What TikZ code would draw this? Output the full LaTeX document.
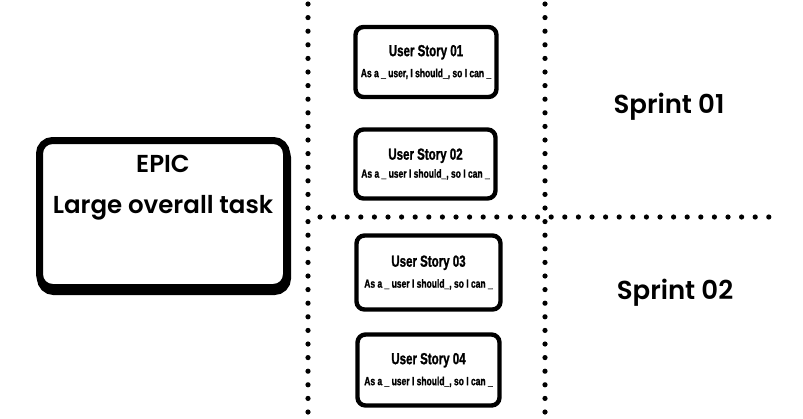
\documentclass[tikz,border=0pt]{standalone}
\usepackage{fontspec}
\setmainfont{Poppins SemiBold}
\newfontfamily\storyfont[FakeStretch=0.72,FakeBold=1.2]{Liberation Sans Bold}
\usetikzlibrary{positioning}

\begin{document}
\begin{tikzpicture}[x=1pt,y=-1pt,
    epicbox/.style={draw,line width=7pt,rounded corners=13pt,minimum width=247pt,minimum height=147pt,fill=white},
    story/.style={draw,line width=4.4pt,rounded corners=8pt,minimum width=142pt,minimum height=71pt,align=center,fill=white,font=\storyfont},
    sprint/.style={font=\fontsize{26}{30}\selectfont},
    sep/.style={line width=5.2pt,line cap=round,dash pattern=on 0pt off 13.6pt}]
    \useasboundingbox (0,0) rectangle (803,418);

    % separators
    \coordinate (v1top) at (308,4);
    \coordinate (v1bot) at (308,418);
    \coordinate (v2top) at (545,4);
    \coordinate (v2bot) at (545,418);
    \coordinate (hleft) at (320,217);
    \coordinate (hright) at (772,217);
    \draw[sep] (v1top) -- (v1bot);
    \draw[sep] (v2top) -- (v2bot);
    \draw[sep] (hleft) -- (hright);

    % epic
    \node[epicbox,fill=black] (epicshadow) at (164,218) {};
    \node[epicbox] (epic) at (163,214) {};
    \node[align=center,font=\fontsize{24.5}{41}\selectfont] (epictext) at (163,188) {EPIC\\Large overall task};

    % user stories
    \node[story,minimum width=141pt,minimum height=70pt] (us1) at (426,62)
        {{\fontsize{16}{18}\selectfont User Story 01}\\[9pt]{\fontsize{11.8}{13}\selectfont As a \_ user, I should\_, so I can \_}};
    \node[story,minimum width=140pt,minimum height=69pt] (us2) at (425.5,164)
        {{\fontsize{16}{18}\selectfont User Story 02}\\[6pt]{\fontsize{11.8}{13}\selectfont As a \_ user I should\_, so I can \_}};
    \node[story,minimum width=144pt,minimum height=74pt] (us3) at (428.5,272.5)
        {{\fontsize{16}{18}\selectfont User Story 03}\\[9pt]{\fontsize{11.8}{13}\selectfont As a \_ user I should\_, so I can \_}};
    \node[story,minimum width=142pt,minimum height=71pt] (us4) at (428.5,370)
        {{\fontsize{16}{18}\selectfont User Story 04}\\[9pt]{\fontsize{11.8}{13}\selectfont As a \_ user I should\_, so I can \_}};

    % sprints
    \node[sprint] (sprint1) at (669,107) {Sprint 01};
    \node[sprint] (sprint2) at (675,293) {Sprint 02};
\end{tikzpicture}
\end{document}
